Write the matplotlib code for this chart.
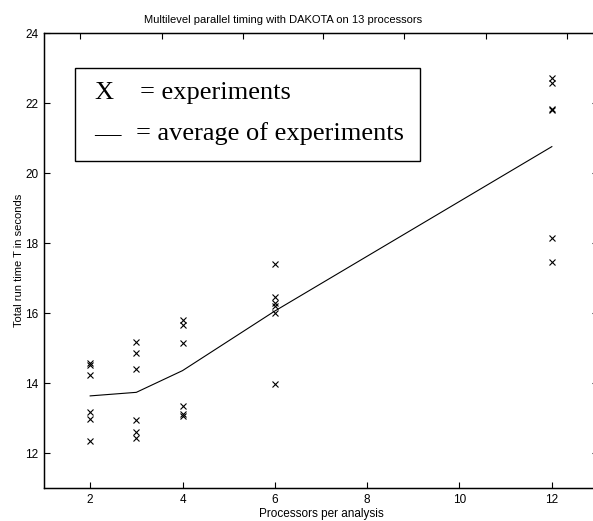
import numpy as np
import matplotlib
matplotlib.use("Agg")
import matplotlib.pyplot as plt
from matplotlib.patches import Rectangle

# Data
procs = [2, 3, 4, 6, 12]
times = [
    [14.56, 14.51, 14.23, 13.18, 12.96, 12.35],
    [15.17, 14.85, 14.40, 12.95, 12.60, 12.43],
    [15.80, 15.65, 15.15, 13.35, 13.12, 13.05],
    [17.40, 16.47, 16.28, 16.21, 16.01, 13.97],
    [22.71, 22.58, 21.83, 21.80, 18.13, 17.47],
]
xticks = [2, 4, 6, 8, 10, 12]
yticks = [12, 14, 16, 18, 20, 22, 24]
top_ticks = [0.065, 0.213, 0.359, 0.504, 0.650, 0.798, 0.944]

plt.rcParams['font.family'] = ['Liberation Sans', 'DejaVu Sans']

fig = plt.figure(figsize=(5.93, 5.21), dpi=100)
ax = fig.add_axes([44/593, (521-488)/521, (598-44)/593, (488-33)/521])

for p, ts in zip(procs, times):
    ax.plot([p]*len(ts), ts, linestyle='none', marker='x', color='black',
            markersize=4.5, markeredgewidth=0.8)
avg = [np.mean(ts) for ts in times]
ax.plot(procs, avg, color='black', linewidth=0.8)

ax.set_xlim(1, 13)
ax.set_ylim(11, 24)
ax.set_xticks(xticks)
ax.set_yticks(yticks)
ax.tick_params(direction='in', length=4, width=0.8, labelsize=8.5,
               top=False, right=True, pad=4)
for s in ax.spines.values():
    s.set_linewidth(1.0)
ax.set_xlabel('Processors per analysis', fontsize=8.5, labelpad=2)
ax.set_ylabel('Total run time T in seconds', fontsize=8)
ax.yaxis.set_label_coords((24-44)/554, 0.5)
fig.text(283/593, 1-20/521, 'Multilevel parallel timing with DAKOTA on 13 processors',
         fontsize=8, ha='center', va='center')

ax2 = ax.twiny()
ax2.set_xlim(0, 1)
ax2.set_xticks(top_ticks)
ax2.tick_params(direction='in', length=4, width=0.8, labeltop=False)

# Legend-like text box
fig.patches.append(Rectangle((75/593, 1-161/521), (420-75)/593, (161-68)/521,
                             transform=fig.transFigure, fill=False,
                             edgecolor='black', linewidth=1.0))
serif = ['Liberation Serif', 'DejaVu Serif']
fs = 19
fig.text(94/593, 1-99/521, 'X', family=serif, fontsize=fs, va='baseline')
fig.text(140/593, 1-99/521, '= experiments', family=serif, fontsize=fs, va='baseline')
fig.text(94/593, 1-140/521, '\u2014', family=serif, fontsize=fs, va='baseline')
fig.text(136/593, 1-140/521, '= average of experiments', family=serif, fontsize=fs, va='baseline')

fig.savefig('out.png', dpi=100)
